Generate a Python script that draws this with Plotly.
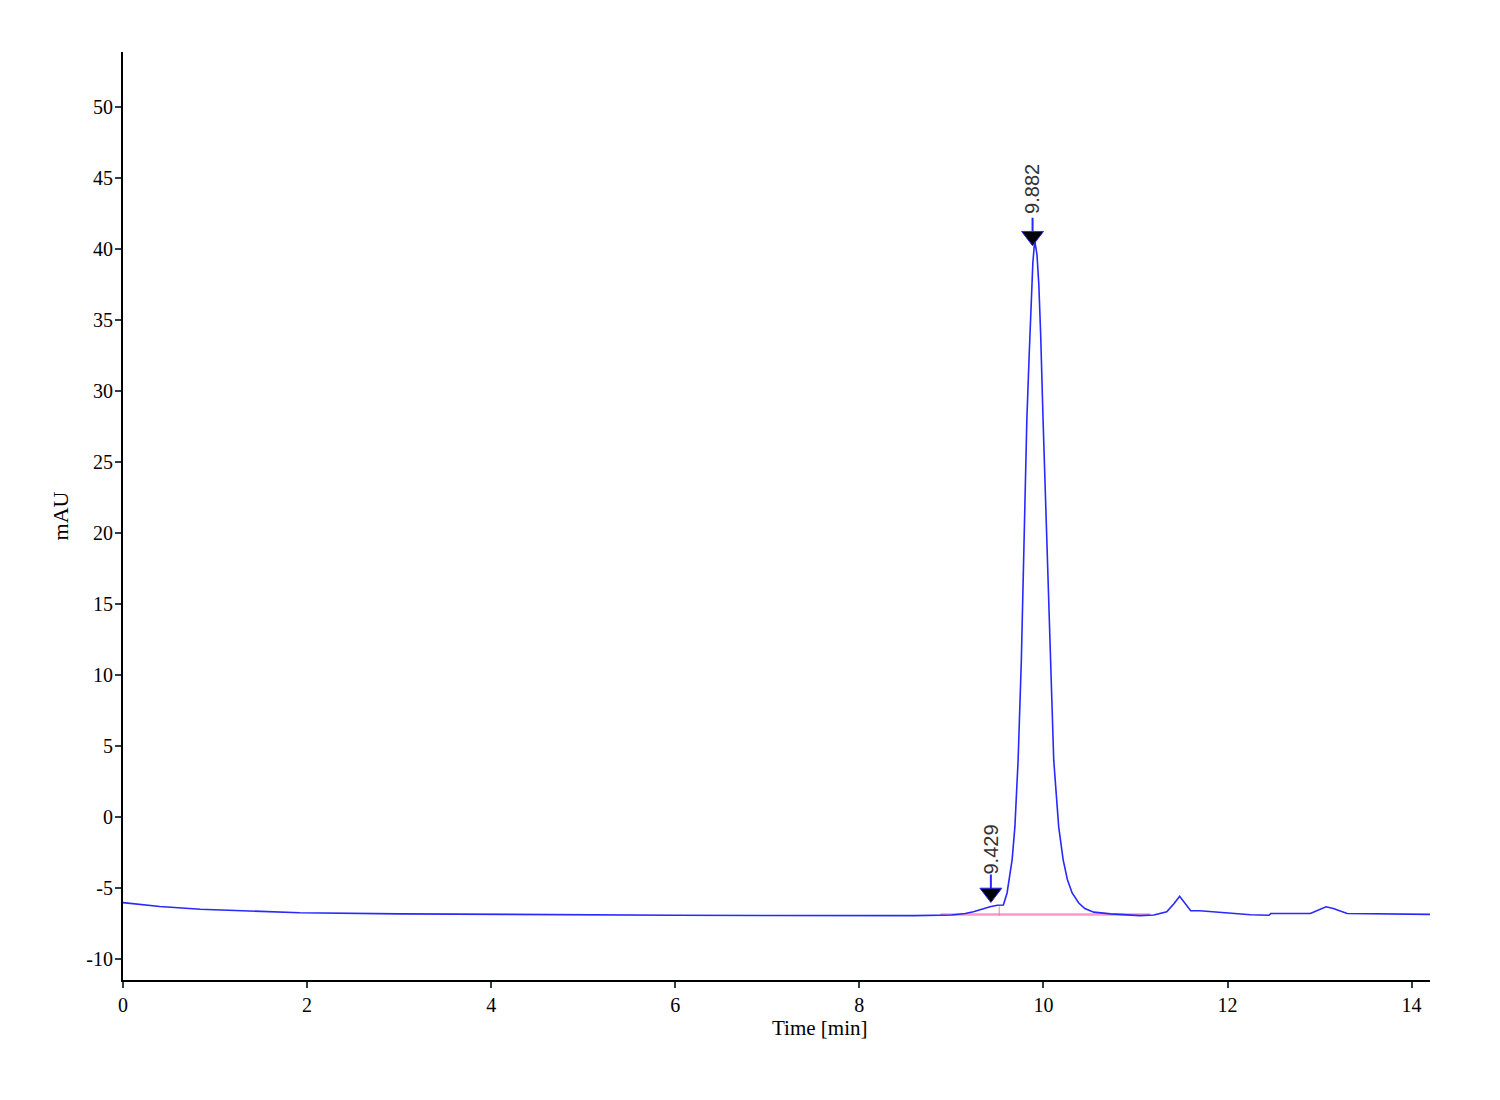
import plotly.graph_objects as go

# Chromatogram trace (time in min, absorbance in mAU)
time_min = [0.0, 0.4, 0.84, 1.4, 1.92, 3.0, 4.0, 5.0, 6.0, 7.0, 8.0, 8.6, 9.0, 9.15,
            9.24, 9.33, 9.42, 9.5, 9.565, 9.605, 9.63, 9.66, 9.69, 9.725, 9.76, 9.785,
            9.82, 9.845, 9.865, 9.885, 9.905, 9.93, 9.95, 9.97, 9.996, 10.02, 10.046,
            10.076, 10.112, 10.166, 10.214, 10.26, 10.312, 10.384, 10.45, 10.547, 10.73,
            11.05, 11.2, 11.34, 11.42, 11.48, 11.53, 11.58, 11.6, 11.7, 12.0, 12.25,
            12.45, 12.47, 12.9, 12.98, 13.07, 13.15, 13.3, 14.2]
mau = [-6.03, -6.3, -6.5, -6.65, -6.74, -6.82, -6.87, -6.9, -6.92, -6.94, -6.95, -6.95,
       -6.9, -6.8, -6.68, -6.5, -6.32, -6.22, -6.2, -5.35, -4.4, -3.0, -0.7, 4.0, 11.0,
       17.8, 28.0, 32.5, 35.5, 39.0, 40.6, 39.6, 37.5, 34.0, 28.0, 23.0, 17.8, 11.0, 4.0,
       -0.7, -3.0, -4.4, -5.35, -6.06, -6.45, -6.7, -6.82, -6.95, -6.9, -6.68, -6.1,
       -5.58, -6.0, -6.5, -6.6, -6.6, -6.74, -6.88, -6.92, -6.8, -6.8, -6.6, -6.32,
       -6.45, -6.8, -6.86]

# Peak annotations
peak_times = [9.429, 9.882]
peak_marker_y = [-5.35, 40.9]
peak_labels = ["9.429", "9.882"]
peak_label_y = [-2.3, 44.2]

# Integration baseline
baseline_t = [8.88, 11.16]
baseline_y = [-6.87, -6.87]
drop_t = [9.52, 9.52]
drop_y = [-6.97, -6.3]

x_ticks = [0, 2, 4, 6, 8, 10, 12, 14]
y_ticks = [-10, -5, 0, 5, 10, 15, 20, 25, 30, 35, 40, 45, 50]

fig = go.Figure()

fig.add_trace(go.Scatter(x=baseline_t, y=baseline_y, mode="lines",
                         line=dict(color="rgb(255,150,205)", width=2.5),
                         hoverinfo="skip", showlegend=False))
fig.add_trace(go.Scatter(x=drop_t, y=drop_y, mode="lines",
                         line=dict(color="rgb(255,120,190)", width=1),
                         hoverinfo="skip", showlegend=False))
fig.add_trace(go.Scatter(x=time_min, y=mau, mode="lines",
                         line=dict(color="rgb(40,40,255)", width=1.6),
                         showlegend=False))

# small blue stems between marker and label
for t, my in zip(peak_times, peak_marker_y):
    fig.add_trace(go.Scatter(x=[t, t], y=[my, my + 1.3], mode="lines",
                             line=dict(color="rgb(40,40,255)", width=2),
                             hoverinfo="skip", showlegend=False))

fig.add_trace(go.Scatter(x=peak_times, y=peak_marker_y, mode="markers",
                         marker=dict(symbol="triangle-down", size=19, color="black",
                                     line=dict(color="rgb(40,40,255)", width=1)),
                         showlegend=False))

for t, ly, lab in zip(peak_times, peak_label_y, peak_labels):
    fig.add_annotation(x=t, y=ly, text=lab, showarrow=False, textangle=-90,
                       font=dict(family="Liberation Sans", size=20, color="#333333"),
                       xanchor="center", yanchor="middle")

fig.add_annotation(x=0.533, y=-0.052, xref="paper", yref="paper", text="Time [min]",
                   showarrow=False, xanchor="center", yanchor="middle",
                   font=dict(family="Liberation Serif", size=21, color="black"))

fig.update_layout(
    width=1500, height=1100,
    margin=dict(l=115, r=78, t=44, b=128),
    paper_bgcolor="white", plot_bgcolor="white",
    font=dict(family="Liberation Serif", size=20, color="black"),
    xaxis=dict(range=[0, 14.2], tickvals=x_ticks, ticktext=[str(v) for v in x_ticks],
               showgrid=False, zeroline=False, showline=True, linecolor="black",
               linewidth=2, ticks="outside", ticklen=6, tickcolor="#2f3f4f",
               tickwidth=2),
    yaxis=dict(range=[-11.48, 53.87], tickvals=y_ticks, ticktext=[str(v) for v in y_ticks],
               showgrid=False, zeroline=False, showline=True, linecolor="black",
               linewidth=2, ticks="outside", ticklen=6, tickcolor="#2f3f4f",
               tickwidth=2, ticklabelstandoff=-2,
               title=dict(text="mAU", standoff=12,
                          font=dict(family="Liberation Serif", size=22))),
)

fig.write_html("out.html")
